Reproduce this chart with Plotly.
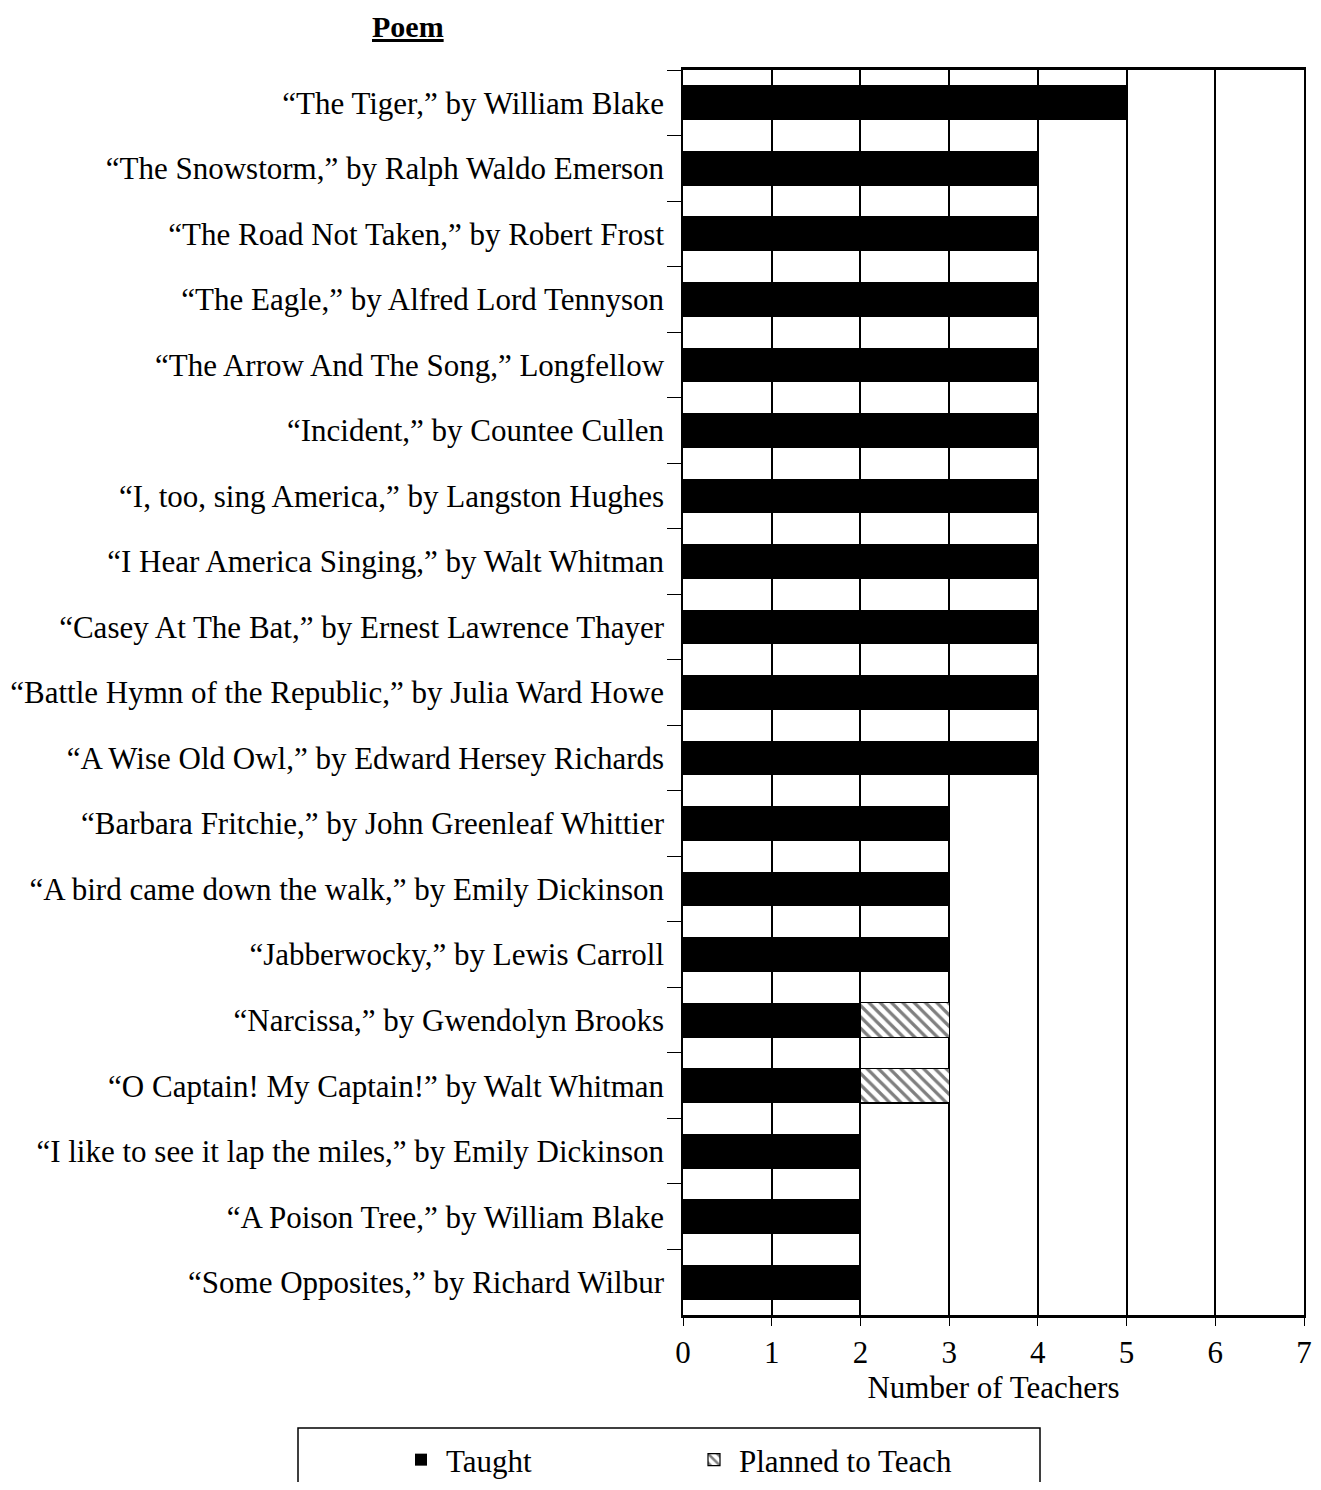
import plotly.graph_objects as go

poems = [
    "“The Tiger,” by William Blake",
    "“The Snowstorm,” by Ralph Waldo Emerson",
    "“The Road Not Taken,” by Robert Frost",
    "“The Eagle,” by Alfred Lord Tennyson",
    "“The Arrow And The Song,” Longfellow",
    "“Incident,” by Countee Cullen",
    "“I, too, sing America,” by Langston Hughes",
    "“I Hear America Singing,” by Walt Whitman",
    "“Casey At The Bat,” by Ernest Lawrence Thayer",
    "“Battle Hymn of the Republic,” by Julia Ward Howe",
    "“A Wise Old Owl,” by Edward Hersey Richards",
    "“Barbara Fritchie,” by John Greenleaf Whittier",
    "“A bird came down the walk,” by Emily Dickinson",
    "“Jabberwocky,” by Lewis Carroll",
    "“Narcissa,” by Gwendolyn Brooks",
    "“O Captain! My Captain!” by Walt Whitman",
    "“I like to see it lap the miles,” by Emily Dickinson",
    "“A Poison Tree,” by William Blake",
    "“Some Opposites,” by Richard Wilbur",
]
taught = [5, 4, 4, 4, 4, 4, 4, 4, 4, 4, 4, 3, 3, 3, 2, 2, 2, 2, 2]
planned = [0, 0, 0, 0, 0, 0, 0, 0, 0, 0, 0, 0, 0, 0, 1, 1, 0, 0, 0]
x_ticks = [0, 1, 2, 3, 4, 5, 6, 7]

FONT = "Liberation Serif, Times New Roman, serif"

# page body has an 8px margin, so the figure is drawn smaller and offset
W, H = 1305, 1474
ML, MR, MT, MB = 675, 9, 62, 167
PW, PH = W - ML - MR, H - MT - MB


def px_x(sx):
    return (sx - 8 - ML) / PW


def px_y(sy):
    return 1 - (sy - 8 - MT) / PH


fig = go.Figure()
fig.add_trace(go.Bar(
    y=poems, x=taught, orientation="h", name="Taught",
    marker=dict(color="black", line=dict(width=0)),
    legend="legend",
))
fig.add_trace(go.Bar(
    y=poems, x=planned, orientation="h", name="Planned to Teach",
    marker=dict(color="white", line=dict(color="black", width=1.2),
                pattern=dict(shape="\\", fgcolor="black", bgcolor="white",
                             size=8, solidity=0.4)),
    legend="legend2",
))

leg_common = dict(
    xref="container", yref="container", xanchor="left", yanchor="middle",
    y=1 - (1460 - 8) / H, bgcolor="rgba(0,0,0,0)", borderwidth=0,
    font=dict(size=31, family=FONT), itemwidth=40,
)

fig.update_layout(
    barmode="stack",
    bargap=0.47,
    width=W, height=H,
    margin=dict(l=ML, r=MR, t=MT, b=MB, autoexpand=False),
    paper_bgcolor="white", plot_bgcolor="white",
    font=dict(family=FONT, size=31, color="black"),
    showlegend=True,
    legend=dict(x=(396 - 8) / W, **leg_common),
    legend2=dict(x=(689 - 8) / W, **leg_common),
    shapes=[dict(
        type="rect", xref="paper", yref="paper",
        x0=px_x(298), x1=px_x(1040), y0=px_y(1428), y1=px_y(1500),
        line=dict(color="black", width=1.5), fillcolor="rgba(0,0,0,0)",
        layer="above",
    )],
    annotations=[dict(
        text="<b><u>Poem</u></b>", xref="paper", yref="paper",
        x=px_x(408), y=px_y(27), xanchor="center", yanchor="middle",
        showarrow=False, font=dict(size=30, family=FONT),
    )],
)

fig.update_xaxes(
    range=[0, 7], tickvals=x_ticks, ticktext=[str(v) for v in x_ticks],
    showgrid=True, gridcolor="black", gridwidth=1.5,
    showline=True, linecolor="black", linewidth=2.5, mirror=True,
    ticks="outside", ticklen=8, tickcolor="black",
    zeroline=False, automargin=False, ticklabeloverflow="allow",
    title=dict(text="Number of Teachers", font=dict(size=31, family=FONT), standoff=6),
    tickfont=dict(size=31, family=FONT),
)
fig.update_yaxes(
    autorange="reversed", type="category",
    showgrid=False, automargin=False,
    showline=True, linecolor="black", linewidth=1.5, mirror=True,
    ticks="outside", ticklen=14, tickcolor="black", tickson="boundaries",
    ticklabelstandoff=11,
    tickfont=dict(size=31, family=FONT),
)

fig.write_html("out.html")
